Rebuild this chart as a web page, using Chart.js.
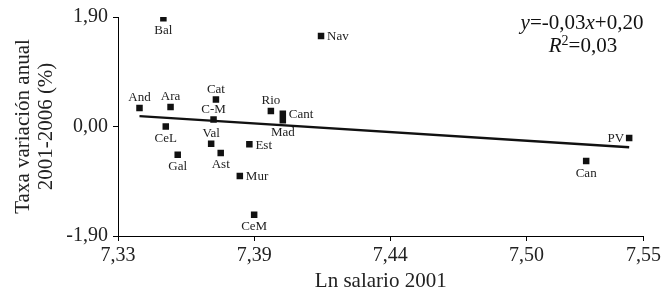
<!DOCTYPE html>
<html>
<head>
<meta charset="utf-8">
<script src="https://cdn.jsdelivr.net/npm/chart.js@4.4.1/dist/chart.umd.min.js"></script>
<style>
  html, body { margin: 0; padding: 0; background: #fff; }
  canvas { display: block; }
</style>
</head>
<body>
<canvas id="myChart" width="664" height="303"></canvas>
<script>
// data
var regions  = ["Bal", "Nav", "And", "Ara", "Cat", "C-M", "Rio", "Cant", "Mad", "CeL", "Val", "Est", "Gal", "Ast", "Mur", "CeM", "PV", "Can"];
var lnSalary = [7.349, 7.415, 7.339, 7.352, 7.371, 7.370, 7.394, 7.399, 7.399, 7.350, 7.369, 7.385, 7.355, 7.373, 7.381, 7.387, 7.544, 7.526];
var growth   = [1.88, 1.57, 0.32, 0.34, 0.47, 0.12, 0.27, 0.22, 0.11, 0.00, -0.30, -0.31, -0.49, -0.46, -0.86, -1.53, -0.20, -0.60];

var trendX = [7.339, 7.544];
var trendY = [0.18, -0.36];

var xTicks = [7.33, 7.387, 7.444, 7.501, 7.55];
var yTicks = [-1.90, 0.00, 1.90];

// where each region name sits around its marker
var labelSide = {"Bal":"below", "Nav":"right", "And":"above", "Ara":"above", "Cat":"above", "C-M":"above",
    "Rio":"above", "Cant":"right", "Mad":"below", "CeL":"below", "Val":"above", "Est":"right",
    "Gal":"below", "Ast":"below", "Mur":"right", "CeM":"below", "PV":"left", "Can":"below"};

var serif = "'Liberation Serif', 'Times New Roman', serif";

function fmt (v) {
    return v.toFixed(2).replace(".", ",");
}

var points = regions.map(function (r, i) {
    return {x: lnSalary[i], y: growth[i]};
});
var trend = trendX.map(function (x, i) {
    return {x: x, y: trendY[i]};
});

var labelsPlugin = {
    id: "pointLabels",
    afterDatasetsDraw: function (chart) {
        var ctx = chart.ctx;
        var meta = chart.getDatasetMeta(1);
        ctx.save();
        ctx.fillStyle = "#222";
        ctx.font = "13px " + serif;
        meta.data.forEach(function (pt, i) {
            var side = labelSide[regions[i]];
            var x = pt.x, y = pt.y;
            ctx.textBaseline = "middle";
            if (side === "above") {
                ctx.textAlign = "center";
                ctx.fillText(regions[i], x, y - 10);
            } else if (side === "below") {
                ctx.textAlign = "center";
                ctx.fillText(regions[i], x, y + 12);
            } else if (side === "right") {
                ctx.textAlign = "left";
                ctx.fillText(regions[i], x + 6, y + 1);
            } else {
                ctx.textAlign = "right";
                ctx.fillText(regions[i], x - 5, y + 1);
            }
        });
        ctx.restore();
    }
};

// draws runs of [text, italic, superscript] centred on cx
function drawRuns (ctx, runs, cx, y, size) {
    var widths = runs.map(function (r) {
        ctx.font = (r[1] ? "italic " : "") + (r[2] ? Math.round(size * 0.65) : size) + "px " + serif;
        return ctx.measureText(r[0]).width;
    });
    var total = widths.reduce(function (a, b) { return a + b; }, 0);
    var x = cx - total / 2;
    runs.forEach(function (r, i) {
        ctx.font = (r[1] ? "italic " : "") + (r[2] ? Math.round(size * 0.65) : size) + "px " + serif;
        ctx.fillText(r[0], x, r[2] ? y - size * 0.35 : y);
        x += widths[i];
    });
}

var equationPlugin = {
    id: "equation",
    afterDraw: function (chart) {
        var ctx = chart.ctx;
        ctx.save();
        ctx.fillStyle = "#111";
        ctx.textAlign = "left";
        ctx.textBaseline = "alphabetic";
        drawRuns(ctx, [["y", true], ["=-0,03", false], ["x", true], ["+0,20", false]], 582, 29, 21);
        drawRuns(ctx, [["R", true], ["2", false, true], ["=0,03", false]], 583, 52, 21);
        ctx.restore();
    }
};

var config1 = {
    type: "scatter",
    data: {
        datasets: [{
            data: trend,
            showLine: true,
            borderColor: "#111",
            borderWidth: 2.5,
            pointRadius: 0,
            fill: false
        }, {
            data: points,
            pointStyle: "rect",
            pointRadius: 4.6,
            borderWidth: 0,
            backgroundColor: "#111",
            borderColor: "#111"
        }]
    },
    options: {
        responsive: false,
        animation: false,
        devicePixelRatio: 1,
        layout: {padding: {left: 0, top: 13, right: 19, bottom: 0}},
        plugins: {legend: {display: false}, tooltip: {enabled: false}},
        scales: {
            x: {
                type: "linear",
                min: 7.33,
                max: 7.55,
                afterBuildTicks: function (s) { s.ticks = xTicks.map(function (v) { return {value: v}; }); },
                afterFit: function (s) { s.height = 67; },
                grid: {display: true, drawOnChartArea: false, drawTicks: true, tickLength: 5, color: "#000"},
                border: {display: true, color: "#000", width: 1},
                ticks: {color: "#222", padding: 3, maxRotation: 0, autoSkip: false,
                    font: {family: serif, size: 20},
                    callback: function (v) { return fmt(v); }},
                title: {display: true, text: "Ln salario 2001", color: "#222",
                    font: {family: serif, size: 21}, padding: {top: 0, bottom: 9}}
            },
            y: {
                type: "linear",
                min: -1.9,
                max: 1.9,
                afterBuildTicks: function (s) { s.ticks = yTicks.map(function (v) { return {value: v}; }); },
                afterFit: function (s) { s.width = 118; },
                grid: {display: true, drawOnChartArea: false, drawTicks: true, tickLength: 5, color: "#000"},
                border: {display: true, color: "#000", width: 1},
                ticks: {color: "#222", padding: 5, autoSkip: false,
                    font: {family: serif, size: 20},
                    callback: function (v) { return fmt(v); }},
                title: {display: true, text: ["Taxa variación anual", "2001-2006 (%)"], color: "#222",
                    font: {family: serif, size: 21, lineHeight: 1.1}, padding: {top: 12, bottom: 0}}
            }
        }
    },
    plugins: [labelsPlugin, equationPlugin]
};

window.myChart = new Chart(document.getElementById("myChart").getContext("2d"), config1);
</script>
</body>
</html>
